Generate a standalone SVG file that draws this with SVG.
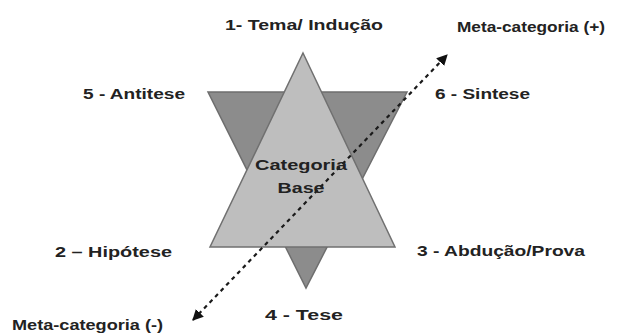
<svg xmlns="http://www.w3.org/2000/svg" width="623" height="333" viewBox="0 0 623 333">
<style>
.t{font-family:"Liberation Sans",Arial,sans-serif;font-weight:bold;font-size:14px;fill:#222;}
.dark{fill:#8c8c8c;stroke:#6e6e6e;stroke-width:1.5;}
.light{fill:#bebebe;stroke:#707070;stroke-width:1.5;}
.dash{stroke:#1a1a1a;stroke-width:2.2;stroke-dasharray:4 4;fill:none;}
</style>
<defs>
<marker id="ah" viewBox="0 0 10 10" refX="9" refY="5" markerWidth="5" markerHeight="5" orient="auto-start-reverse" markerUnits="strokeWidth">
<path d="M0,0 L10,5 L0,10 z" fill="#111"/>
</marker>
</defs>
<rect width="623" height="333" fill="#fff"/>
<g id="star">
<polygon class="dark" points="208,92 407,92 306,288"/>
<polygon class="light" points="303,53 395,247 210,247"/>
</g>
<g id="connectors">
<line class="dash" x1="193" y1="320" x2="447" y2="55" marker-start="url(#ah)" marker-end="url(#ah)"/>
</g>
<g id="center">
<text class="t" x="301" y="170" text-anchor="middle" textLength="92" lengthAdjust="spacingAndGlyphs">Categoria</text>
<text class="t" x="301" y="193" text-anchor="middle" textLength="47" lengthAdjust="spacingAndGlyphs">Base</text>
</g>
<g id="n1"><text class="t" x="225" y="30" textLength="158" lengthAdjust="spacingAndGlyphs">1- Tema/ Indução</text></g>
<g id="metaPlus"><text class="t" x="457" y="32" textLength="148" lengthAdjust="spacingAndGlyphs">Meta-categoria (+)</text></g>
<g id="n5"><text class="t" x="83" y="99" textLength="102" lengthAdjust="spacingAndGlyphs">5 - Antitese</text></g>
<g id="n6"><text class="t" x="435" y="99" textLength="95" lengthAdjust="spacingAndGlyphs">6 - Sintese</text></g>
<g id="n2"><text class="t" x="55" y="257" textLength="117" lengthAdjust="spacingAndGlyphs">2 – Hipótese</text></g>
<g id="n3"><text class="t" x="417" y="256" textLength="168" lengthAdjust="spacingAndGlyphs">3 - Abdução/Prova</text></g>
<g id="n4"><text class="t" x="265" y="320" textLength="78" lengthAdjust="spacingAndGlyphs">4 - Tese</text></g>
<g id="metaMinus"><text class="t" x="12" y="330" textLength="151" lengthAdjust="spacingAndGlyphs">Meta-categoria (-)</text></g>
</svg>
